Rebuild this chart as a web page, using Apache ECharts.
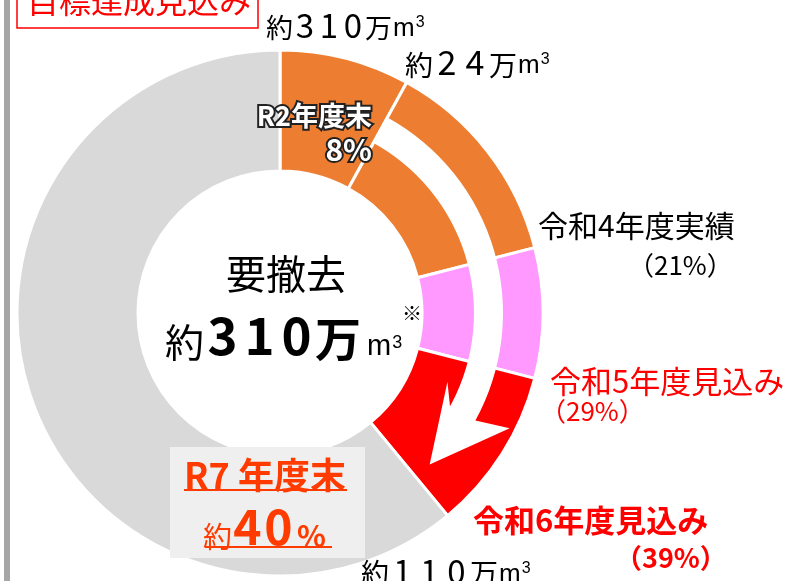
<!DOCTYPE html>
<html>
<head>
<meta charset="utf-8">
<script src="https://cdn.jsdelivr.net/npm/echarts@6/dist/echarts.min.js"></script>
<style>
html, body { margin: 0; padding: 0; background: #fff; }
#chart { width: 791px; height: 581px; }
</style>
</head>
<body>
<div id="chart"></div>
<script>
// 撤去の進み具合（％）
const segNames = ['R2年度末', '令和4年度実績', '令和5年度見込み', '令和6年度見込み', '残り']
const segValues = [8, 13, 8, 10, 61]
const segColors = ['#ed7d31', '#ed7d31', '#ff99ff', '#ff0000', '#d9d9d9']
// 矢印（％の位置）
const arrowFrom = 8
const arrowTo = 33
const arrowTip = 37.6

const FONT = "'Noto Sans CJK JP', 'Noto Sans', sans-serif"
const LATIN = "'Liberation Sans', sans-serif"
const cx = 280
const cy = 313

function polar (pct, r) {
  const a = pct * 3.6 * Math.PI / 180
  return [cx + r * Math.sin(a), cy - r * Math.cos(a)]
}

function text (x, y, str, size, color, extra) {
  return {
    type: 'text',
    x: x,
    y: y,
    z: 100,
    style: Object.assign({
      text: str,
      fill: color,
      fontSize: size,
      fontFamily: FONT,
      align: 'left',
      verticalAlign: 'middle',
      textAlign: 'left',
      textVerticalAlign: 'middle'
    }, extra || {})
  }
}

// 「約○○万m3」のような文字
function amount (x, y, num, opt) {
  const w = opt.bold ? 'bold' : 'normal'
  const rich = {
    k: { fontSize: opt.k, lineHeight: opt.k, verticalAlign: 'bottom', fontFamily: FONT, fill: '#000' },
    d: { fontSize: opt.d, lineHeight: opt.d, width: opt.dw, align: 'center', verticalAlign: 'bottom', fontFamily: FONT, fill: '#000', fontWeight: w },
    w: { fontSize: opt.w, lineHeight: opt.w, verticalAlign: 'bottom', fontFamily: FONT, fill: '#000', fontWeight: w },
    m: { fontSize: opt.m, lineHeight: opt.m, verticalAlign: 'bottom', fontFamily: LATIN, fill: '#000', padding: [0, 0, 0, opt.mp || 1] },
    s: { fontSize: opt.s, lineHeight: opt.s, verticalAlign: 'bottom', fontFamily: LATIN, fill: '#000', padding: [0, 0, opt.sp, 1] }
  }
  const digits = num.split('').map(c => '{d|' + c + '}').join('')
  const str = '{k|約}' + digits + '{w|万}{m|m}{s|3}'
  return text(x, y, str, opt.k, '#000', { rich: rich })
}

const chart = echarts.init(document.getElementById('chart'))

const arrowHead = [
  polar(arrowTo, 194),
  polar(31.2, 181),
  polar(arrowTip, 213),
  polar(32.4, 257),
  polar(arrowTo, 223)
]

const outline = { fontWeight: 'bold', stroke: '#222', lineWidth: 4, strokeFirst: true, align: 'right', textAlign: 'right' }

const option = {
  animation: false,
  backgroundColor: '#fff',
  series: [
    {
      type: 'pie',
      center: [cx, cy],
      radius: [142, 263],
      startAngle: 90,
      silent: true,
      label: { show: false },
      labelLine: { show: false },
      itemStyle: { borderColor: '#fff', borderWidth: 3 },
      data: segNames.map((n, i) => ({ name: n, value: segValues[i], itemStyle: { color: segColors[i] } }))
    },
    {
      type: 'pie',
      center: [cx, cy],
      radius: [194, 223],
      startAngle: 90,
      silent: true,
      z: 3,
      label: { show: false },
      labelLine: { show: false },
      itemStyle: { borderWidth: 0 },
      data: [
        { value: arrowFrom, itemStyle: { color: 'rgba(0,0,0,0)' } },
        { value: arrowTo - arrowFrom + 0.5, itemStyle: { color: '#fff' } },
        { value: 100 - arrowTo - 0.5, itemStyle: { color: 'rgba(0,0,0,0)' } }
      ]
    }
  ],
  graphic: [
    { type: 'rect', z: 100, shape: { x: 4, y: 0, width: 6, height: 581 }, style: { fill: '#a6a6a6' } },
    { type: 'polygon', z: 100, shape: { points: arrowHead }, style: { fill: '#fff' } },
    { type: 'rect', z: 100, shape: { x: 17, y: -20, width: 241, height: 48 }, style: { fill: '#fff', stroke: '#ff0000', lineWidth: 1.5 } },
    text(27, 1, '目標達成見込み', 32, '#ff0000'),

    amount(266, 25, '310', { k: 27, d: 33, dw: 24, w: 27, m: 26, s: 16, sp: 11 }),
    amount(405, 62, '24', { k: 28, d: 34, dw: 28, w: 28, m: 26, s: 16, sp: 11 }),

    text(372, 116, segNames[0], 27, '#fff', outline),
    text(372, 150, '8%', 30, '#fff', outline),

    text(538, 226, segNames[1], 30, '#000'),
    text(628, 265, '（21%）', 26, '#000'),
    text(550, 381, segNames[2], 31, '#ff0000'),
    text(540, 411, '（29%）', 26, '#ff0000'),
    text(473, 520, segNames[3], 31, '#ff0000', { fontWeight: 'bold' }),
    text(615, 558, '（39%）', 27, '#ff0000', { fontWeight: 'bold' }),

    text(286, 274, '要撤去', 40, '#000', { align: 'center', textAlign: 'center' }),
    amount(165, 336, '310', { k: 39, d: 51, dw: 37, w: 46, m: 29, s: 18, mp: 6, sp: 9, bold: true }),
    text(412, 313, '※', 20, '#000', { align: 'center', textAlign: 'center' }),

    amount(361, 571, '110', { k: 28, d: 33, dw: 27, w: 28, m: 26, s: 16, sp: 11 }),

    { type: 'rect', z: 100, shape: { x: 170, y: 447, width: 195, height: 111 }, style: { fill: '#efefef' } },
    text(184, 475, 'R7 年度末', 36, '#ff3b00', { fontWeight: 'bold' }),
    { type: 'rect', z: 100, shape: { x: 184, y: 489, width: 163, height: 2 }, style: { fill: '#ff3b00' } },
    text(203, 527, '{k|約}{d|4}{d|0}{p|%}', 28, '#ff3b00', {
      rich: {
        k: { fontSize: 29, lineHeight: 29, verticalAlign: 'bottom', fontFamily: FONT, fill: '#ff3b00' },
        d: { fontSize: 48, lineHeight: 48, width: 31, align: 'center', verticalAlign: 'bottom', fontFamily: FONT, fontWeight: 'bold', fill: '#ff3b00' },
        p: { fontSize: 30, lineHeight: 30, verticalAlign: 'bottom', fontFamily: FONT, fontWeight: 'bold', fill: '#ff3b00', padding: [0, 0, 0, 3] }
      }
    }),
    { type: 'rect', z: 100, shape: { x: 205, y: 546, width: 127, height: 2 }, style: { fill: '#ff3b00' } }
  ]
}

chart.setOption(option)
</script>
</body>
</html>
